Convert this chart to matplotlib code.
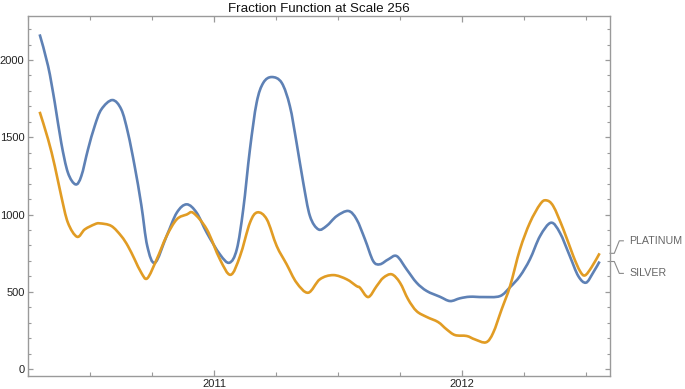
import matplotlib
matplotlib.use("Agg")
import matplotlib.pyplot as plt
import matplotlib.transforms as mtransforms
from matplotlib.path import Path
from matplotlib.patches import PathPatch
import numpy as np

plt.rcParams['font.family'] = ['Liberation Sans', 'DejaVu Sans']

title = "Fraction Function at Scale 256"

silver_t = [2010.297, 2010.331, 2010.358, 2010.384, 2010.411, 2010.442, 2010.465, 2010.492,
            2010.519, 2010.546, 2010.590, 2010.626, 2010.653, 2010.680, 2010.707, 2010.731,
            2010.762, 2010.809, 2010.850, 2010.890, 2010.930, 2010.971, 2011.024, 2011.062,
            2011.092, 2011.118, 2011.145, 2011.172, 2011.199, 2011.233, 2011.273, 2011.306,
            2011.333, 2011.360, 2011.387, 2011.421, 2011.454, 2011.495, 2011.542, 2011.575,
            2011.609, 2011.642, 2011.669, 2011.703, 2011.737, 2011.777, 2011.817, 2011.858,
            2011.911, 2011.952, 2011.992, 2012.032, 2012.086, 2012.153, 2012.194, 2012.234,
            2012.274, 2012.315, 2012.359, 2012.395, 2012.435, 2012.469, 2012.500, 2012.529,
            2012.555]
silver_v = [2166, 1961, 1724, 1465, 1271, 1195, 1249, 1422,
            1573, 1681, 1741, 1681, 1529, 1314, 1061, 796,
            688, 861, 1012, 1066, 1012, 882, 742, 688,
            775, 1034, 1422, 1724, 1853, 1890, 1853, 1702,
            1465, 1206, 990, 904, 926, 990, 1023, 969,
            839, 699, 678, 710, 731, 645, 559, 505,
            468, 440, 458, 468, 466, 472, 530, 602,
            710, 861, 947, 882, 731, 602, 559, 624,
            696]

platinum_t = [2010.297, 2010.331, 2010.358, 2010.384, 2010.411, 2010.448, 2010.479, 2010.519,
              2010.539, 2010.586, 2010.626, 2010.653, 2010.680, 2010.707, 2010.731, 2010.769,
              2010.809, 2010.850, 2010.890, 2010.917, 2010.971, 2011.024, 2011.067, 2011.105,
              2011.145, 2011.175, 2011.213, 2011.253, 2011.293, 2011.333, 2011.380, 2011.427,
              2011.481, 2011.535, 2011.575, 2011.589, 2011.622, 2011.656, 2011.683, 2011.717,
              2011.750, 2011.783, 2011.817, 2011.858, 2011.904, 2011.938, 2011.972, 2012.019,
              2012.052, 2012.097, 2012.126, 2012.160, 2012.194, 2012.234, 2012.274, 2012.315,
              2012.339, 2012.368, 2012.409, 2012.449, 2012.476, 2012.496, 2012.523, 2012.555]
platinum_v = [1665, 1487, 1314, 1120, 947, 856, 904, 937,
              943, 926, 861, 796, 710, 623, 587, 710,
              861, 969, 1000, 1010, 904, 710, 610, 731,
              947, 1014, 969, 796, 678, 559, 494, 581,
              608, 581, 537, 526, 466, 537, 591, 613,
              559, 451, 375, 337, 304, 257, 220, 214,
              192, 173, 235, 386, 537, 775, 947, 1066,
              1092, 1055, 904, 731, 634, 606, 660, 749]

series_names = ["PLATINUM", "SILVER"]
x_major = [2011, 2012]
x_major_labels = ["2011", "2012"]
x_minor = [2010.25, 2010.5, 2010.75, 2011.25, 2011.5, 2011.75, 2012.25, 2012.5]
y_major = [0, 500, 1000, 1500, 2000]

blue = "#5E81B5"
orange = "#E19C24"
frame_c = "#9a9a9a"


def smooth_path(xs, ys):
    """Bezier (Catmull-Rom) rendering through the read points."""
    p = np.column_stack([xs, ys]).astype(float)
    ext = np.vstack([p[0], p, p[-1]])
    verts = [p[0]]
    codes = [Path.MOVETO]
    for i in range(len(p) - 1):
        a, b, c, d = ext[i], ext[i + 1], ext[i + 2], ext[i + 3]
        c1 = b + (c - a) / 6.0
        c2 = c - (d - b) / 6.0
        verts += [c1, c2, c]
        codes += [Path.CURVE4] * 3
    return Path(verts, codes)


fig = plt.figure(figsize=(6.85, 3.89), dpi=100)
ax = fig.add_axes([28/685, 1-376/389, (610-28)/685, (376-16)/389])

for xs, ys, col in [(silver_t, silver_v, blue), (platinum_t, platinum_v, orange)]:
    ax.add_patch(PathPatch(smooth_path(xs, ys), facecolor='none', edgecolor=col,
                           lw=1.9, capstyle='butt', joinstyle='round'))

ax.set_xlim(2010.25, 2012.597)
ax.set_ylim(-45, 2285)

ax.set_xticks(x_major)
ax.set_xticklabels(x_major_labels)
ax.set_xticks(x_minor, minor=True)
ax.set_yticks(y_major)
ax.set_yticks([v for v in range(100, 2300, 100) if v % 500 != 0], minor=True)

for s in ax.spines.values():
    s.set_color(frame_c)
    s.set_linewidth(1.0)

ax.tick_params(which='both', direction='in', top=True, right=True, color=frame_c,
               labelcolor='#222222', labelsize=8)
ax.tick_params(axis='x', which='major', length=4.2, width=0.9, pad=2.5)
ax.tick_params(axis='x', which='minor', length=3.0, width=0.8)
ax.tick_params(axis='y', which='major', length=3.8, width=0.9, pad=2.5)
ax.tick_params(axis='y', which='minor', length=2.0, width=0.8)

ax.set_title(title, fontsize=9.6, color='#111111', pad=3)

# callout labels
trans = mtransforms.blended_transform_factory(ax.transAxes, ax.transData)
callouts = [(series_names[0], platinum_v[-1], 830), (series_names[1], silver_v[-1], 619)]
for name, y0, y1 in callouts:
    ax.plot([1.0, 1.0074, 1.016, 1.0229], [y0, y0, y1, y1], transform=trans,
            color='#8a8a8a', lw=0.8, clip_on=False)
    ax.text(1.0326, y1, name, transform=trans, fontsize=7.7, color='#666666',
            va='center', ha='left')

fig.savefig("out.png", dpi=100)
